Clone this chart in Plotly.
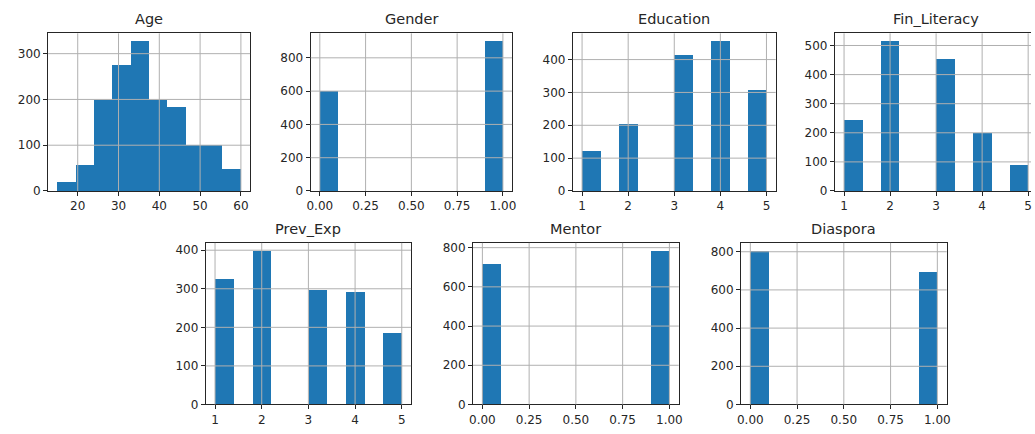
import numpy as np
import plotly.graph_objects as go

# Age: respondent counts in ten equal-width bins spanning the observed ages
age_min, age_max = 15, 60
age_counts = [18, 57, 199, 275, 328, 197, 183, 99, 99, 48]

# Discrete variables: levels and number of respondents at each level
gender_levels = [0, 1]
gender_counts = [598, 902]
education_levels = [1, 2, 3, 4, 5]
education_counts = [122, 202, 413, 457, 306]
finlit_levels = [1, 2, 3, 4, 5]
finlit_counts = [244, 516, 452, 199, 89]
prevexp_levels = [1, 2, 3, 4, 5]
prevexp_counts = [326, 399, 297, 292, 186]
mentor_levels = [0, 1]
mentor_counts = [715, 785]
diaspora_levels = [0, 1]
diaspora_counts = [806, 694]

binary_ticks = [0, 0.25, 0.5, 0.75, 1.0]
level_ticks = [1, 2, 3, 4, 5]


def level_hist(levels, counts):
    values = np.repeat(levels, counts)
    h, edges = np.histogram(values, bins=10)
    return h, edges


panels = []
age_edges = np.linspace(age_min, age_max, 11)
panels.append(dict(title="Age", counts=np.array(age_counts), edges=age_edges,
                   xt=[20, 30, 40, 50, 60], yt=[0, 100, 200, 300], fmt=None))
for title, lv, ct, xt, yt, fmt in [
    ("Gender", gender_levels, gender_counts, binary_ticks, [0, 200, 400, 600, 800], ".2f"),
    ("Education", education_levels, education_counts, level_ticks, [0, 100, 200, 300, 400], None),
    ("Fin_Literacy", finlit_levels, finlit_counts, level_ticks, [0, 100, 200, 300, 400, 500], None),
    ("Prev_Exp", prevexp_levels, prevexp_counts, level_ticks, [0, 100, 200, 300, 400], None),
    ("Mentor", mentor_levels, mentor_counts, binary_ticks, [0, 200, 400, 600, 800], ".2f"),
    ("Diaspora", diaspora_levels, diaspora_counts, binary_ticks, [0, 200, 400, 600, 800], ".2f"),
]:
    h, e = level_hist(lv, ct)
    panels.append(dict(title=title, counts=h, edges=e, xt=xt, yt=yt, fmt=fmt))

# panel placement (paper fractions)
top_row = [1 - 193 / 434, 1 - 32 / 434]
bottom_row = [1 - 411 / 434, 1 - 246 / 434]
x_domains = [
    [0.0430, 0.2396], [0.2986, 0.4947], [0.5539, 0.7514], [0.8090, 1.0062],
    [0.1964, 0.3964], [0.4567, 0.6570], [0.7176, 0.9179],
]
y_domains = [top_row] * 4 + [bottom_row] * 3

BLUE = "#1f77b4"
INK = "#262626"
GRID = "#b0b0b0"
FONT = "DejaVu Sans"

fig = go.Figure()
shapes = []
annotations = []
layout = {}

for i, p in enumerate(panels):
    n = i + 1
    xa = "x" if n == 1 else f"x{n}"
    ya = "y" if n == 1 else f"y{n}"
    edges = p["edges"]
    widths = np.diff(edges)
    fig.add_trace(go.Bar(
        x=edges[:-1], y=p["counts"], width=widths, offset=0,
        marker=dict(color=BLUE, line=dict(width=0)),
        xaxis=xa, yaxis=ya, showlegend=False, hoverinfo="skip",
    ))
    span = edges[-1] - edges[0]
    x_lo, x_hi = edges[0] - 0.05 * span, edges[-1] + 0.05 * span
    dom = list(x_domains[i])
    mirror_y = True
    if dom[1] > 1.0:
        # panel runs past the right edge of the page: clip it there
        frac = (1.0 - dom[0]) / (dom[1] - dom[0])
        x_hi = x_lo + (x_hi - x_lo) * frac
        dom[1] = 1.0
        mirror_y = False
    y_hi = 1.05 * float(np.max(p["counts"]))

    axis_common = dict(
        showline=True, linecolor=INK, linewidth=1, showgrid=False, zeroline=False,
        ticks="outside", ticklen=4, tickwidth=1, tickcolor=INK,
        tickfont=dict(family=FONT, size=12, color=INK),
    )
    xkey = "xaxis" if n == 1 else f"xaxis{n}"
    ykey = "yaxis" if n == 1 else f"yaxis{n}"
    layout[xkey] = dict(axis_common, domain=dom, range=[x_lo, x_hi], anchor=ya,
                        tickvals=p["xt"], mirror=True,
                        tickformat=p["fmt"] if p["fmt"] else None)
    layout[ykey] = dict(axis_common, domain=y_domains[i], range=[0, y_hi], anchor=xa,
                        tickvals=p["yt"], mirror=mirror_y)

    # grid drawn over the bars
    for v in p["xt"]:
        shapes.append(dict(type="line", xref=xa, yref=f"{ya} domain", x0=v, x1=v, y0=0, y1=1,
                           line=dict(color=GRID, width=1), layer="above"))
    for v in p["yt"]:
        if v == 0:
            continue
        shapes.append(dict(type="line", xref=f"{xa} domain", yref=ya, x0=0, x1=1, y0=v, y1=v,
                           line=dict(color=GRID, width=1), layer="above"))

    nominal = x_domains[i]
    annotations.append(dict(
        text=p["title"], xref="paper", yref="paper",
        x=(nominal[0] + nominal[1]) / 2, y=y_domains[i][1],
        xanchor="center", yanchor="bottom", yshift=4, showarrow=False,
        font=dict(family=FONT, size=14.5, color=INK),
    ))

fig.update_layout(
    width=1035, height=434,
    margin=dict(l=0, r=0, t=0, b=0),
    paper_bgcolor="white", plot_bgcolor="white",
    bargap=0, shapes=shapes, annotations=annotations,
    font=dict(family=FONT, color=INK),
    **layout,
)

fig.write_html("out.html")
